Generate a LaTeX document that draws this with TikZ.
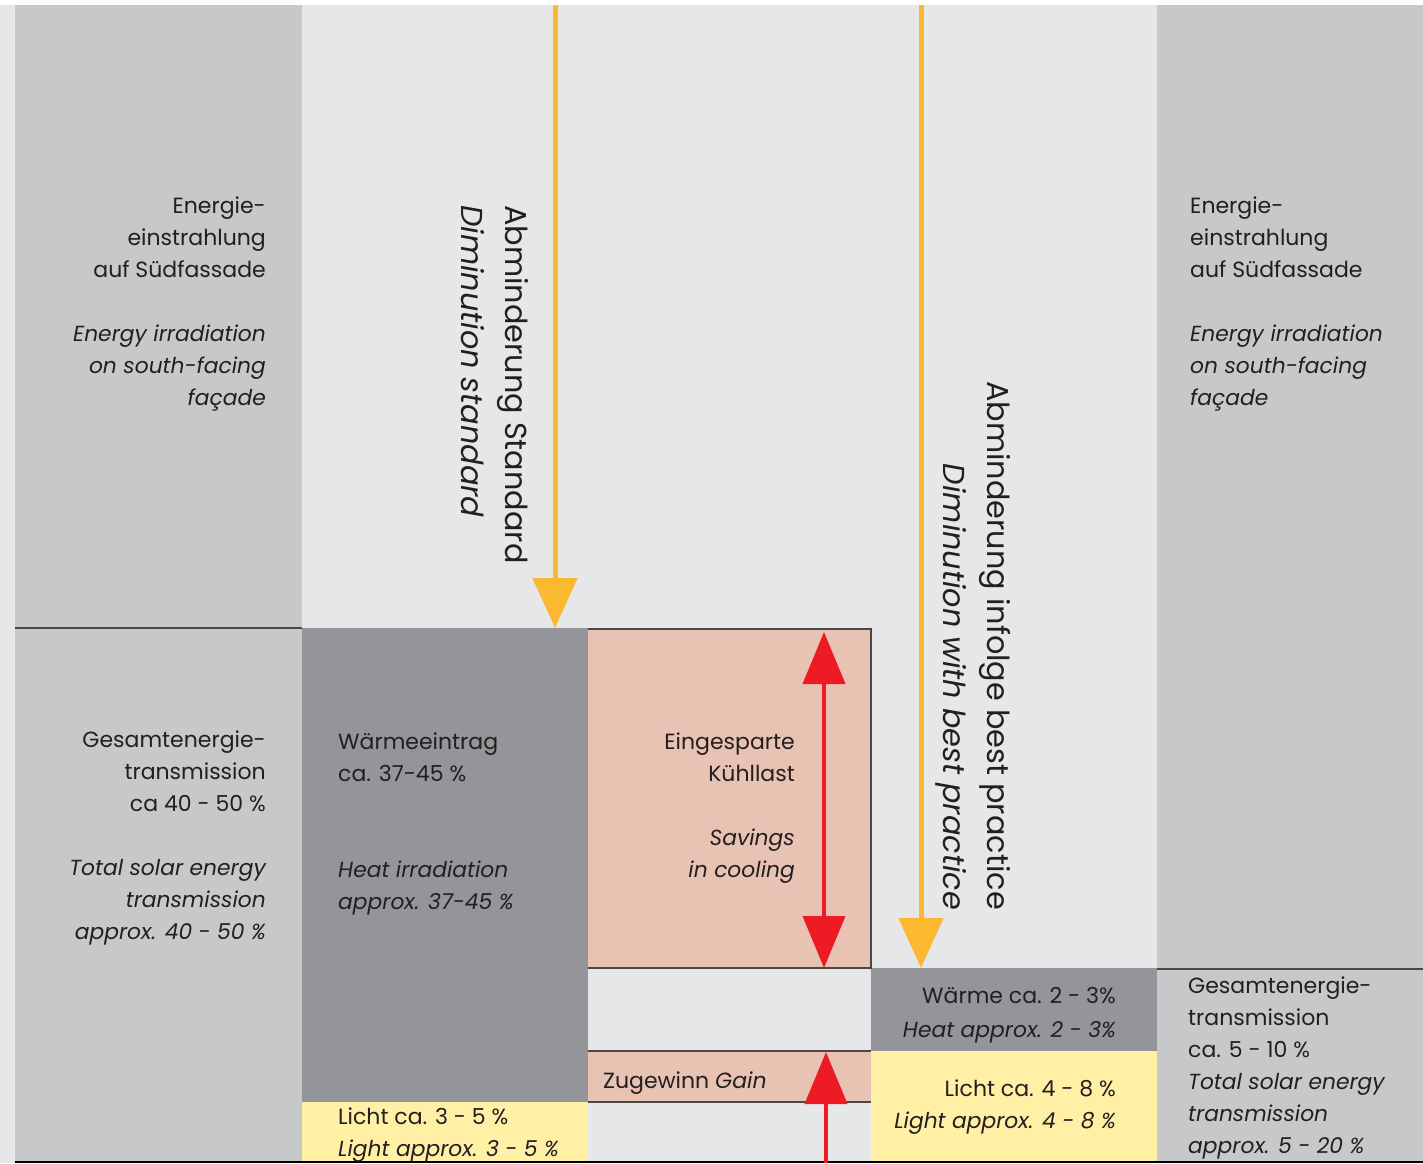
\documentclass[tikz,border=0pt]{standalone}
\usepackage{fontspec}
\setmainfont{Poppins}
\usetikzlibrary{arrows.meta}
\definecolor{bgl}{HTML}{E6E7E8}
\definecolor{colg}{HTML}{C7C8CA}
\definecolor{dkg}{HTML}{939598}
\definecolor{pnk}{HTML}{E8C2B3}
\definecolor{ylw}{HTML}{FFF0A6}
\definecolor{orng}{HTML}{FBB932}
\definecolor{rd}{HTML}{ED1C24}
\definecolor{txtc}{HTML}{231F20}
\definecolor{edgec}{HTML}{4D4546}
\begin{document}
\begin{tikzpicture}[x=1pt,y=-1pt,
  rl/.style={font=\fontsize{22}{30}\selectfont,text=txtc,inner sep=0pt,anchor=base east},
  ll/.style={font=\fontsize{22}{30}\selectfont,text=txtc,inner sep=0pt,anchor=base west},
  rli/.style={rl,font=\fontsize{21.8}{30}\selectfont\itshape},
  lli/.style={ll,font=\fontsize{21.8}{30}\selectfont\itshape},
  rot/.style={font=\fontsize{30.3}{36}\selectfont,text=txtc,inner sep=0pt,rotate=-90},
  rotit/.style={rot,font=\fontsize{30.3}{36}\selectfont\itshape},
  sep/.style={draw=edgec,line width=1.5pt},
  yarrow/.style={draw=orng,line width=5pt,-{Triangle[width=44pt,length=50pt,fill=orng]}},
  rarrow/.style={draw=rd,line width=4pt},
]
\useasboundingbox (0,0) rectangle (1423,1163);
\fill[white] (0,0) rectangle (1423,1163);
\fill[bgl] (0,5) rectangle (1423,1163);
% columns
\fill[colg] (15,5) rectangle (302,1163);
\fill[colg] (1157,5) rectangle (1423,1163);
% blocks
\fill[dkg] (302,628) rectangle (588,1102);
\fill[ylw] (302,1102) rectangle (588,1163);
\fill[pnk] (588,629) rectangle (871,968);
\fill[pnk] (588,1051) rectangle (871,1102);
\fill[dkg] (871,968) rectangle (1157,1051);
\fill[ylw] (871,1051) rectangle (1157,1163);
% separator lines
\draw[sep] (15,628) -- (302,628);
\draw[sep] (588,629) -- (871,629) -- (871,968) -- (588,968);
\draw[sep] (588,1051) -- (871,1051);
\draw[sep] (588,1102) -- (871,1102);
\draw[sep] (1157,969) -- (1423,969);
\draw[draw=black,line width=2pt] (15,1162) -- (1423,1162);
% arrows
\coordinate (y1s) at (555,5);
\coordinate (y1e) at (555,628);
\coordinate (y2s) at (921,5);
\coordinate (y2e) at (921,968);
\coordinate (r1s) at (824,632);
\coordinate (r1e) at (824,968);
\coordinate (r2s) at (826,1163);
\coordinate (r2e) at (826,1052);
\draw[yarrow] (y1s) -- (y1e);
\draw[yarrow] (y2s) -- (y2e);
\draw[rarrow,{Triangle[width=42pt,length=52pt,fill=rd]}-{Triangle[width=42pt,length=52pt,fill=rd]}] (r1s) -- (r1e);
\draw[rarrow,-{Triangle[width=42pt,length=52pt,fill=rd]}] (r2s) -- (r2e);
% rotated labels
\node[rot,anchor=base west] (ab1) at (505,205) {Abminderung Standard};
\node[rotit,anchor=base west] (di1) at (461,205) {Diminution standard};
\node[rot,anchor=base east] (ab2) at (987,910) {Abminderung infolge best practice};
\node[rotit,anchor=base east] (di2) at (943,910) {Diminution with best practice};
% left column
\node[rl] (l1) at (266,213) {Energie-};
\node[rl] (l2) at (266,245) {einstrahlung};
\node[rl] (l3) at (266,277) {auf Südfassade};
\node[rli] (l4) at (266,341) {Energy irradiation};
\node[rli] (l5) at (266,373) {on south-facing};
\node[rli] (l6) at (266,405) {façade};
\node[rl] (l7) at (266,747) {Gesamtenergie-};
\node[rl] (l8) at (266,779) {transmission};
\node[rl] (l9) at (266,811) {ca 40 - 50 \%};
\node[rli] (l10) at (266,875) {Total solar energy};
\node[rli] (l11) at (266,907) {transmission};
\node[rli] (l12) at (266,939) {approx. 40 - 50 \%};
% right column
\node[ll] (r1) at (1190,213) {Energie-};
\node[ll] (r2) at (1190,245) {einstrahlung};
\node[ll] (r3) at (1190,277) {auf Südfassade};
\node[lli] (r4) at (1190,341) {Energy irradiation};
\node[lli] (r5) at (1190,373) {on south-facing};
\node[lli] (r6) at (1190,405) {façade};
\node[ll] (r7) at (1188,993) {Gesamtenergie-};
\node[ll] (r8) at (1188,1025) {transmission};
\node[ll] (r9) at (1188,1057) {ca. 5 - 10 \%};
\node[lli] (r10) at (1188,1089) {Total solar energy};
\node[lli] (r11) at (1188,1121) {transmission};
\node[lli] (r12) at (1188,1153) {approx. 5 - 20 \%};
% dark block
\node[ll] (w1) at (338,749) {Wärmeeintrag};
\node[ll] (w2) at (338,781) {ca. 37-45 \%};
\node[lli] (w3) at (338,877) {Heat irradiation};
\node[lli] (w4) at (338,909) {approx. 37-45 \%};
% pink block
\node[rl] (p1) at (795,749) {Eingesparte};
\node[rl] (p2) at (795,781) {Kühllast};
\node[rli] (p3) at (795,845) {Savings};
\node[rli] (p4) at (795,877) {in cooling};
% yellow left
\node[ll] (yl1) at (338,1124) {Licht ca. 3 - 5 \%};
\node[lli] (yl2) at (338,1156) {Light approx. 3 - 5 \%};
% gain
\node[ll] (g1) at (603,1088) {Zugewinn \textit{Gain}};
% right dark + yellow
\node[rl] (h1) at (1116,1003) {Wärme ca. 2 - 3\%};
\node[rli] (h2) at (1116,1037) {Heat approx. 2 - 3\%};
\node[rl] (yr1) at (1116,1096) {Licht ca. 4 - 8 \%};
\node[rli] (yr2) at (1116,1128) {Light approx. 4 - 8 \%};
\end{tikzpicture}
\end{document}
